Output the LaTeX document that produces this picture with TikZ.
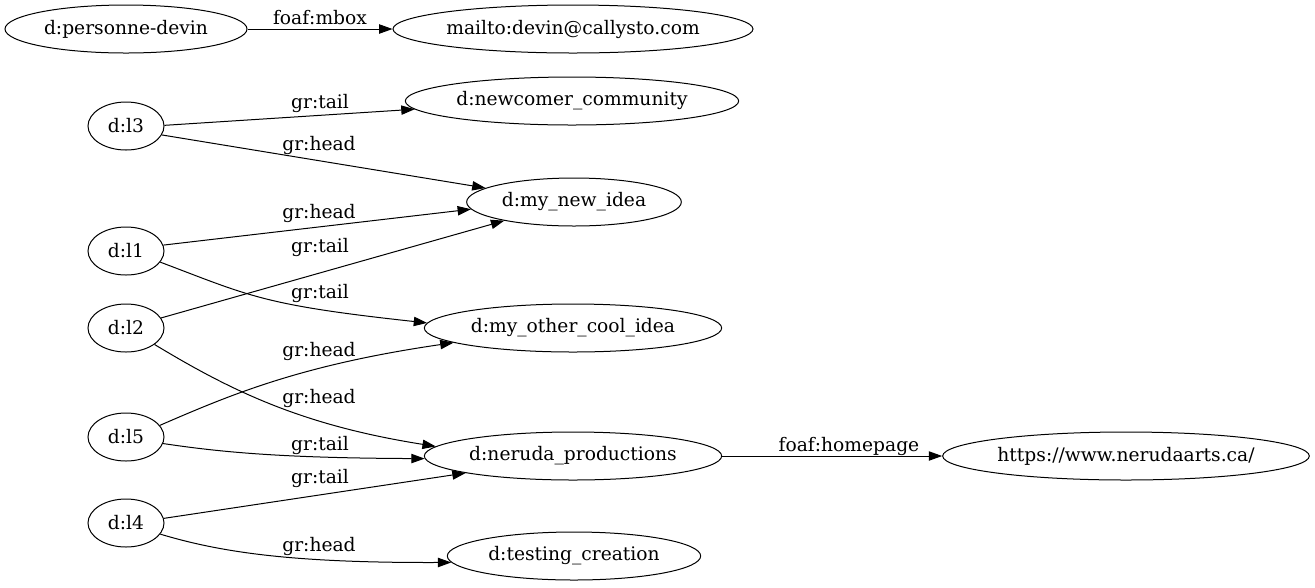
\documentclass[tikz,border=0pt]{standalone}
\usepackage{fontspec}
\setmainfont{DejaVu Serif}
\usetikzlibrary{shapes.geometric,arrows.meta}
\begin{document}
\begin{tikzpicture}[x=0.75pt,y=-0.75pt,
  every node/.style={font=\fontsize{14pt}{17pt}\selectfont},
  ent/.style={ellipse,draw,line width=0.75pt,minimum height=36pt,inner sep=0pt},
  conn/.style={draw,line width=0.75pt,-{Triangle[length=10pt,width=7pt]}},
  lbl/.style={inner sep=0pt,anchor=base}]
\useasboundingbox (0,0) rectangle (1315,587);
% nodes
\node[ent,minimum width=181.5pt] (devin) at (126,29) {d:personne-devin};
\node[ent,minimum width=270pt] (mailto) at (573,29) {mailto:devin@callysto.com};
\node[ent,minimum width=250pt] (newcomer) at (572,101) {d:newcomer\_community};
\node[ent,minimum width=57pt] (l3) at (126,126) {d:l3};
\node[ent,minimum width=161pt] (newidea) at (574,202) {d:my\_new\_idea};
\node[ent,minimum width=57pt] (l1) at (126,251) {d:l1};
\node[ent,minimum width=57pt] (l2) at (126,328) {d:l2};
\node[ent,minimum width=223pt] (other) at (573,328) {d:my\_other\_cool\_idea};
\node[ent,minimum width=57pt] (l5) at (126,437) {d:l5};
\node[ent,minimum width=223pt] (neruda) at (573,456) {d:neruda\_productions};
\node[ent,minimum width=275pt] (arts) at (1126,456) {https://www.nerudaarts.ca/};
\node[ent,minimum width=57pt] (l4) at (126,523) {d:l4};
\node[ent,minimum width=190pt] (testing) at (574,556) {d:testing\_creation};
% edges
\draw[conn] (devin) -- (mailto) node[lbl,at={(320,24)}] {foaf:mbox};
\draw[conn] (l3.1.5) -- (newcomer.183) node[lbl,at={(320,108)}] {gr:tail};
\draw[conn] (l3.346) -- (newidea.171.5) node[lbl,at={(319,150)}] {gr:head};
\draw[conn] (l1.9) -- (newidea.184.5) node[lbl,at={(319,218)}] {gr:head};
\draw[conn] (l2.16.4) -- (newidea.195) node[lbl,at={(320,252)}] {gr:tail};
\draw[conn] (l1.-18.4) .. controls (250,296) and (262,305) .. (other.178)
  node[lbl,at={(320,298)}] {gr:tail};
\draw[conn] (l5.19.4) .. controls (230,395) and (300,365) .. (other.187.4)
  node[lbl,at={(319,356)}] {gr:head};
\draw[conn] (l2.-30.4) .. controls (230,390) and (300,425) .. (neruda.176.1)
  node[lbl,at={(319,403)}] {gr:head};
\draw[conn] (l5.-10.7) .. controls (220,452) and (280,458) .. (neruda.181.2)
  node[lbl,at={(320,450)}] {gr:tail};
\draw[conn] (l4.7.7) -- (neruda.189) node[lbl,at={(320,483)}] {gr:tail};
\draw[conn] (l4.-18.4) .. controls (220,552) and (290,563) .. (testing.183.2)
  node[lbl,at={(319,551)}] {gr:head};
\draw[conn] (neruda) -- (arts) node[lbl,at={(849,451)}] {foaf:homepage};
\end{tikzpicture}
\end{document}
